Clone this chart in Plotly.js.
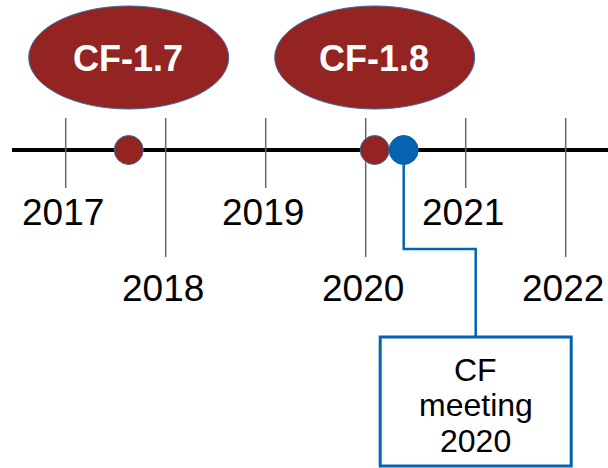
<!DOCTYPE html>
<html>
<head>
<meta charset="utf-8">
<script src="https://cdn.plot.ly/plotly-3.0.1.min.js"></script>
<style>html,body{margin:0;padding:0;background:#fff;}#chart{width:608px;height:468px;}</style>
</head>
<body>
<div id="chart"></div>
<script>
// ---- data ----
const years = [2017, 2018, 2019, 2020, 2021, 2022];
const releaseNames = ['CF-1.7', 'CF-1.8'];
const releaseDates = [2017.63, 2020.09];
const eventNames = ['CF meeting 2020'];
const eventDates = [2020.38];

// ---- styling / layout constants ----
const RED = '#942422';
const BLUE = '#0563b1';
const OUTLINE = '#3d6aa8';
const FONT = 'Liberation Sans, Arial, sans-serif';
const xRange = [2016.343, 2022.423];
const yRange = [468, 0]; // vertical positions in plot units (top = 0)
const lineY = 150;

const shapes = [];
const annotations = [];

// main timeline
shapes.push({type: 'line', xref: 'x', yref: 'y', x0: 2016.463, x1: xRange[1], y0: lineY, y1: lineY,
  line: {color: '#000', width: 4}, layer: 'below'});

// year ticks and labels
years.forEach((yr, i) => {
  const odd = i % 2 === 0;
  shapes.push({type: 'line', xref: 'x', yref: 'y', x0: yr, x1: yr, y0: 118, y1: odd ? 188 : 257,
    line: {color: '#666', width: 1.5}, layer: 'below'});
  annotations.push({x: yr, y: odd ? 212 : 288, xref: 'x', yref: 'y', text: String(yr), showarrow: false,
    xanchor: 'center', yanchor: 'middle', xshift: -3, font: {family: FONT, size: 37, color: '#000'}});
});

// release ellipses
releaseNames.forEach((name, i) => {
  const d = releaseDates[i];
  shapes.push({type: 'circle', xref: 'x', yref: 'y', x0: d - 1.0, x1: d + 1.0, y0: 6, y1: 109,
    fillcolor: RED, line: {color: OUTLINE, width: 1}, layer: 'above'});
  annotations.push({x: d, y: 58, xref: 'x', yref: 'y', text: '<b>' + name + '</b>', showarrow: false,
    xanchor: 'center', yanchor: 'middle', xshift: -1, font: {family: FONT, size: 36, color: '#fff'}});
});

// event box + connector
eventNames.forEach((name, i) => {
  const d = eventDates[i];
  const bc = d + 0.72;
  shapes.push({type: 'rect', xref: 'x', yref: 'y', x0: bc - 0.955, x1: bc + 0.955, y0: 337, y1: 466,
    fillcolor: '#fff', line: {color: BLUE, width: 3}, layer: 'above'});
  name.split(' ').forEach((ln, j) => {
    annotations.push({x: bc, y: 369.5 + j * 35.5, xref: 'x', yref: 'y', text: ln, showarrow: false,
      xanchor: 'center', yanchor: 'middle', font: {family: FONT, size: 32, color: '#000'}});
  });
});

const traces = [];
// connector line
eventDates.forEach(d => {
  const bc = d + 0.72;
  traces.push({type: 'scatter', mode: 'lines', x: [d, d, bc, bc], y: [lineY, 249, 249, 337],
    line: {color: BLUE, width: 2.5}, hoverinfo: 'skip', showlegend: false});
});
// release dots
traces.push({type: 'scatter', mode: 'markers', x: releaseDates, y: releaseDates.map(() => lineY),
  marker: {size: 29, color: RED, line: {color: OUTLINE, width: 1}}, hoverinfo: 'skip', showlegend: false});
// event dots
traces.push({type: 'scatter', mode: 'markers', x: eventDates, y: eventDates.map(() => lineY),
  marker: {size: 29, color: BLUE, line: {color: BLUE, width: 1}}, hoverinfo: 'skip', showlegend: false});

const layout = {
  width: 608, height: 468,
  margin: {l: 0, r: 0, t: 0, b: 0, pad: 0},
  paper_bgcolor: '#fff', plot_bgcolor: '#fff',
  xaxis: {range: xRange, visible: false, fixedrange: true},
  yaxis: {range: yRange, visible: false, fixedrange: true},
  shapes: shapes,
  annotations: annotations,
  showlegend: false
};

Plotly.newPlot('chart', traces, layout, {displayModeBar: false, staticPlot: true});
</script>
</body>
</html>
